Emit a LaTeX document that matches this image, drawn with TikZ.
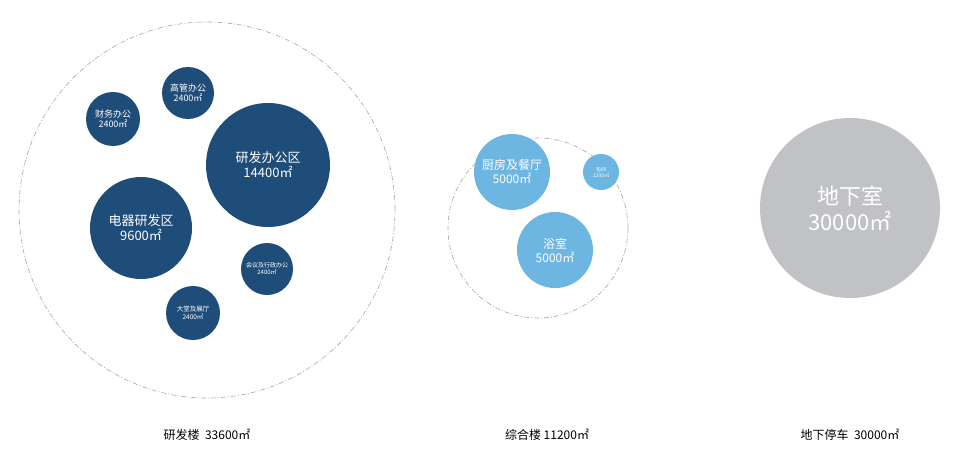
\documentclass[tikz,border=0pt]{standalone}
\usepackage{fontspec}
\setmainfont{Noto Sans CJK SC}
\definecolor{dk}{HTML}{1F4D7A}
\definecolor{lt}{HTML}{6DB6E2}
\definecolor{gr}{HTML}{C1C2C6}
\begin{document}
\begin{tikzpicture}[x=1pt,y=-1pt,
 dk/.style={circle,fill=dk,text=white,inner sep=0pt,align=center,font=#1},
 lt/.style={circle,fill=lt,text=white,inner sep=0pt,align=center,font=#1},
 zone/.style={circle,draw=gray!70,dash pattern=on 5pt off 2pt on 1pt off 2pt,line width=0.6pt,inner sep=0pt},
 lab/.style={font=\fontsize{12}{14}\selectfont}]
\useasboundingbox (0,0) rectangle (960,460);
\node[zone,minimum size=376pt] (z1) at (207,210) {};
\node[zone,minimum size=180pt] (z2) at (538,228) {};
\node[circle,fill=gr,text=white,minimum size=180pt,align=center,font=\fontsize{22}{26}\selectfont] (z3) at (850,208) {地下室\\30000㎡};
\node[dk=\fontsize{9}{10}\selectfont,minimum size=52pt] (a) at (188,93) {高管办公\\2400㎡};
\node[dk=\fontsize{9}{10}\selectfont,minimum size=54pt] (b) at (113,119) {财务办公\\2400㎡};
\node[dk=\fontsize{13}{15}\selectfont,minimum size=124pt] (c) at (268,165) {研发办公区\\14400㎡};
\node[dk=\fontsize{13}{15}\selectfont,minimum size=102pt] (d) at (141,228) {电器研发区\\9600㎡};
\node[dk=\fontsize{6}{7}\selectfont,minimum size=52pt] (e) at (267,269) {会议及行政办公\\2400㎡};
\node[dk=\fontsize{6.5}{7.5}\selectfont,minimum size=54pt] (f) at (193,313) {大堂及展厅\\2400㎡};
\node[lt=\fontsize{12}{14}\selectfont,minimum size=76pt] (g) at (512,172) {厨房及餐厅\\5000㎡};
\node[lt=\fontsize{5}{6}\selectfont,minimum size=36pt] (h) at (601,172) {包间\\1200㎡};
\node[lt=\fontsize{12}{14}\selectfont,minimum size=76pt] (i) at (555,250) {浴室\\5000㎡};
\node[lab] (l1) at (207,435) {研发楼\ \ 33600㎡};
\node[lab] (l2) at (547,435) {综合楼 11200㎡};
\node[lab] (l3) at (850,435) {地下停车\ \ 30000㎡};
\end{tikzpicture}
\end{document}
